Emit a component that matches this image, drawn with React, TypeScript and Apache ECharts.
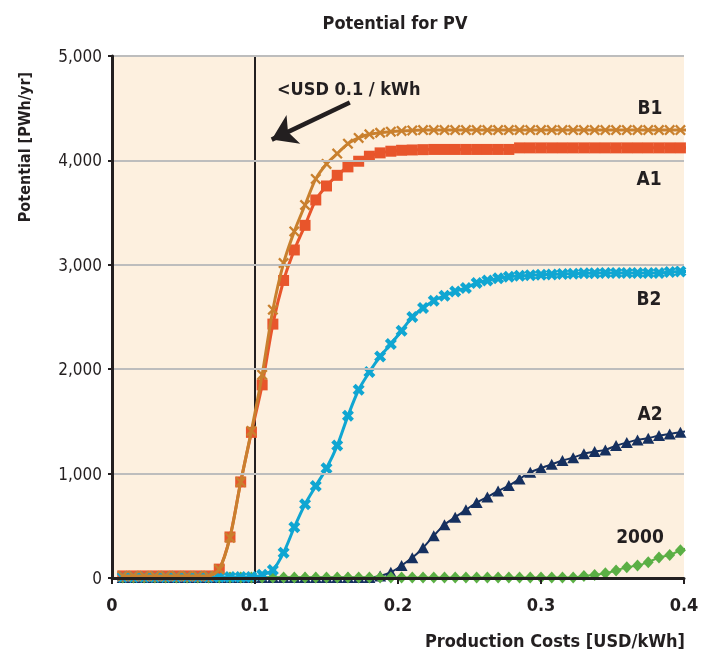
import React, { useEffect, useRef } from 'react';
import * as echarts from 'echarts';

// Production cost (USD/kWh) of each plotted point; the last one is the line's run-out past the axis end
const costs = [
  0.0075, 0.015, 0.0225, 0.03, 0.0375, 0.045, 0.0525, 0.06, 0.0675, 0.075,
  0.0825, 0.09, 0.0975, 0.105, 0.1125, 0.12, 0.1275, 0.135, 0.1425, 0.15,
  0.1575, 0.165, 0.1725, 0.18, 0.1875, 0.195, 0.2025, 0.21, 0.2175, 0.225,
  0.2325, 0.24, 0.2475, 0.255, 0.2625, 0.27, 0.2775, 0.285, 0.2925, 0.3,
  0.3075, 0.315, 0.3225, 0.33, 0.3375, 0.345, 0.3525, 0.36, 0.3675, 0.375,
  0.3825, 0.39, 0.3975, 0.405,
];

// Potential (PWh/yr)
const seriesB1 = [
  20, 20, 20, 20, 20, 20, 20, 20, 20, 83,
  386, 920, 1409, 1946, 2570, 3017, 3320, 3573, 3823, 3966,
  4065, 4160, 4215, 4250, 4265, 4275, 4282, 4287, 4290, 4290,
  4290, 4290, 4290, 4290, 4290, 4290, 4290, 4290, 4290, 4290,
  4290, 4290, 4290, 4290, 4290, 4290, 4290, 4290, 4290, 4290,
  4290, 4290, 4290, 4290,
];
const seriesA1 = [
  20, 20, 20, 20, 20, 20, 20, 20, 20, 85,
  393, 920, 1395, 1850, 2432, 2850, 3142, 3378, 3621, 3755,
  3857, 3938, 3992, 4040, 4072, 4088, 4097, 4100, 4103, 4105,
  4105, 4105, 4105, 4105, 4105, 4105, 4105, 4120, 4120, 4120,
  4120, 4120, 4120, 4120, 4120, 4120, 4120, 4120, 4120, 4120,
  4120, 4120, 4120, 4120,
];
const seriesB2 = [
  10, 10, 10, 10, 10, 10, 10, 10, 10, 10,
  10, 10, 10, 30, 77, 243, 486, 707, 882, 1052,
  1268, 1553, 1803, 1972, 2122, 2241, 2368, 2500, 2586, 2656,
  2704, 2745, 2778, 2826, 2850, 2870, 2885, 2895, 2900, 2905,
  2908, 2912, 2915, 2918, 2920, 2922, 2922, 2922, 2922, 2922,
  2922, 2930, 2935, 2937,
];
const seriesA2 = [
  5, 5, 5, 5, 5, 5, 5, 5, 5, 5,
  5, 5, 5, 5, 5, 5, 5, 5, 5, 5,
  5, 5, 5, 5, 19, 55, 120, 193, 290, 405,
  510, 583, 653, 723, 776, 834, 885, 949, 1013, 1052,
  1090, 1125, 1153, 1189, 1211, 1227, 1268, 1297, 1323, 1339,
  1364, 1380, 1397, 1412,
];
const series2000 = [
  5, 5, 5, 5, 5, 5, 5, 5, 5, 5,
  5, 5, 5, 5, 5, 5, 5, 5, 5, 5,
  5, 5, 5, 5, 5, 5, 5, 5, 5, 5,
  5, 5, 5, 5, 5, 5, 5, 5, 5, 5,
  5, 5, 5, 19, 29, 45, 72, 103, 120, 152,
  196, 220, 265, 297,
];

const xTicks = [0, 0.1, 0.2, 0.3, 0.4];
const yTicks = [0, 1000, 2000, 3000, 4000, 5000];
const threshold = 0.1;

const FONT = "'Liberation Sans Narrow', 'DejaVu Sans Condensed', 'Open Sans', sans-serif";
const INK = '#231F20';

const X_THIN = 'path://M1.5,0 L5,3.5 L8.5,0 L10,1.5 L6.5,5 L10,8.5 L8.5,10 L5,6.5 L1.5,10 L0,8.5 L3.5,5 L0,1.5 Z';
const X_BOLD = 'path://M2.5,0 L5,2.5 L7.5,0 L10,2.5 L7.5,5 L10,7.5 L7.5,10 L5,7.5 L2.5,10 L0,7.5 L2.5,5 L0,2.5 Z';

function toData(vals: number[]) {
  return vals.map((v, i) =>
    i === vals.length - 1 ? { value: [costs[i], v], symbol: 'none' } : [costs[i], v]
  );
}

export default function App() {
  const ref = useRef<HTMLDivElement>(null);
  useEffect(() => {
    if (!ref.current) return;
    const chart = echarts.init(ref.current, undefined, { renderer: 'svg' });
    const lineSeries = (name: string, vals: number[], color: string, symbol: string, size: any, width: number, z: number) => ({
      name,
      type: 'line',
      data: toData(vals),
      smooth: 0.3,
      clip: false,
      symbol,
      symbolSize: size,
      showAllSymbol: true,
      z,
      lineStyle: { color, width },
      itemStyle: { color, borderWidth: 0 },
    });
    chart.setOption({
      animation: false,
      textStyle: { fontFamily: FONT },
      grid: {
        left: 112, top: 56, width: 572, height: 522,
        show: true, backgroundColor: '#FDF0DF', borderWidth: 0,
      },
      xAxis: {
        type: 'value', min: xTicks[0], max: xTicks[xTicks.length - 1], interval: 0.1,
        z: 10,
        axisLine: { show: true, lineStyle: { color: INK, width: 3 } },
        axisTick: { show: true, length: 6, lineStyle: { color: INK, width: 2 } },
        splitLine: { show: false },
        axisLabel: { color: INK, fontSize: 18, fontWeight: 'bold', fontFamily: FONT, margin: 17 },
      },
      yAxis: {
        type: 'value', min: yTicks[0], max: yTicks[yTicks.length - 1], interval: 1000,
        z: 10,
        axisLine: { show: true, lineStyle: { color: INK, width: 3 } },
        axisTick: { show: true, length: 4, lineStyle: { color: INK, width: 2 } },
        splitLine: { show: true, lineStyle: { color: '#BDBDBD', width: 2 } },
        axisLabel: {
          color: INK, fontSize: 17, fontFamily: FONT, margin: 10,
          formatter: (v: number) => v.toLocaleString('en-US'),
        },
      },
      series: [
        {
          type: 'line', data: [], z: 1, silent: true,
          markLine: {
            silent: true, symbol: 'none', label: { show: false },
            lineStyle: { color: INK, width: 2, type: 'solid' },
            data: [{ xAxis: threshold }],
          },
        },
        {
          type: 'line', data: [], z: 12, silent: true,
          markLine: {
            silent: true, label: { show: false },
            symbol: ['none', 'arrow'], symbolSize: 24,
            lineStyle: { color: INK, width: 4.5, type: 'solid' },
            data: [[{ coord: [0.1663, 4554] }, { coord: [0.1117, 4199] }]],
          },
        },
        lineSeries('A2', seriesA2, '#16305F', 'triangle', [12, 11], 2, 3),
        lineSeries('2000', series2000, '#5BAF45', 'diamond', [11, 12], 2, 4),
        lineSeries('A1', seriesA1, '#E8552B', 'rect', 11, 3, 5),
        lineSeries('B2', seriesB2, '#10A6D2', X_BOLD, 12, 3, 6),
        lineSeries('B1', seriesB1, '#C9802E', X_THIN, 11, 3, 7),
      ],
      graphic: [
        { type: 'text', x: 395, y: 22, style: { text: 'Potential for PV', font: `bold 18px ${FONT}`, fill: INK, align: 'center', verticalAlign: 'middle' } },
        { type: 'text', x: 24, y: 147, rotation: Math.PI / 2, style: { text: 'Potential [PWh/yr]', font: `bold 16px ${FONT}`, fill: INK, align: 'center', verticalAlign: 'middle' } },
        { type: 'text', x: 685, y: 640, style: { text: 'Production Costs [USD/kWh]', font: `bold 18px ${FONT}`, fill: INK, align: 'right', verticalAlign: 'middle' } },
        { type: 'text', x: 277, y: 88, style: { text: '<USD 0.1 / kWh', font: `bold 18px ${FONT}`, fill: INK, align: 'left', verticalAlign: 'middle' } },
        { type: 'text', x: 650, y: 107, style: { text: 'B1', font: `bold 19px ${FONT}`, fill: INK, align: 'center', verticalAlign: 'middle' } },
        { type: 'text', x: 649, y: 178, style: { text: 'A1', font: `bold 19px ${FONT}`, fill: INK, align: 'center', verticalAlign: 'middle' } },
        { type: 'text', x: 649, y: 298, style: { text: 'B2', font: `bold 19px ${FONT}`, fill: INK, align: 'center', verticalAlign: 'middle' } },
        { type: 'text', x: 650, y: 413, style: { text: 'A2', font: `bold 19px ${FONT}`, fill: INK, align: 'center', verticalAlign: 'middle' } },
        { type: 'text', x: 640, y: 536, style: { text: '2000', font: `bold 19px ${FONT}`, fill: INK, align: 'center', verticalAlign: 'middle' } },
      ],
    });
    return () => chart.dispose();
  }, []);
  return <div ref={ref} style={{ position: 'fixed', left: 0, top: 0, width: 713, height: 649 }} />;
}
